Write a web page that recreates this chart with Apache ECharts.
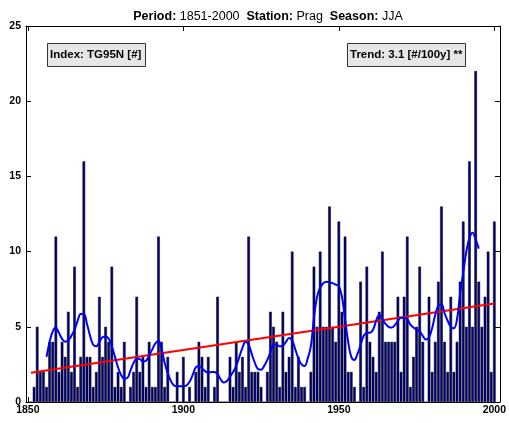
<!DOCTYPE html>
<html><head><meta charset="utf-8">
<script src="https://cdn.jsdelivr.net/npm/echarts@6/dist/echarts.min.js"></script>
<style>html,body{margin:0;padding:0;background:#fff}#c{width:509px;height:423px}</style>
</head><body><div id="c"></div>
<script>
// ---- data ----
const years = [1851,1852,1853,1854,1855,1856,1857,1858,1859,1860,
1861,1862,1863,1864,1865,1866,1867,1868,1869,1870,
1871,1872,1873,1874,1875,1876,1877,1878,1879,1880,
1881,1882,1883,1884,1885,1886,1887,1888,1889,1890,
1891,1892,1893,1894,1895,1896,1897,1898,1899,1900,
1901,1902,1903,1904,1905,1906,1907,1908,1909,1910,
1911,1912,1913,1914,1915,1916,1917,1918,1919,1920,
1921,1922,1923,1924,1925,1926,1927,1928,1929,1930,
1931,1932,1933,1934,1935,1936,1937,1938,1939,1940,
1941,1942,1943,1944,1945,1946,1947,1948,1949,1950,
1951,1952,1953,1954,1955,1956,1957,1958,1959,1960,
1961,1962,1963,1964,1965,1966,1967,1968,1969,1970,
1971,1972,1973,1974,1975,1976,1977,1978,1979,1980,
1981,1982,1983,1984,1985,1986,1987,1988,1989,1990,
1991,1992,1993,1994,1995,1996,1997,1998,1999,2000];
const counts = [0,1,5,2,2,1,4,4,11,2,
4,3,6,2,9,1,3,16,3,3,
1,2,7,3,5,4,9,1,2,1,
4,0,1,2,7,2,3,1,4,1,
1,11,4,1,3,0,0,2,0,3,
0,1,0,2,4,3,1,3,0,1,
7,0,0,0,3,1,4,2,3,1,
11,2,2,2,1,0,2,6,5,4,
1,6,2,3,10,1,3,1,1,0,
2,9,5,10,5,5,13,5,4,12,
6,11,2,2,1,0,8,1,9,4,
3,2,6,10,4,4,4,4,7,2,
7,11,1,3,5,9,4,0,7,2,
4,8,13,4,2,7,2,4,8,12,
5,16,5,22,8,5,7,10,2,12];
const smoothYears = [1856,1857,1858,1859,1860,
1861,1862,1863,1864,1865,1866,1867,1868,1869,1870,
1871,1872,1873,1874,1875,1876,1877,1878,1879,1880,
1881,1882,1883,1884,1885,1886,1887,1888,1889,1890,
1891,1892,1893,1894,1895,1896,1897,1898,1899,1900,
1901,1902,1903,1904,1905,1906,1907,1908,1909,1910,
1911,1912,1913,1914,1915,1916,1917,1918,1919,1920,
1921,1922,1923,1924,1925,1926,1927,1928,1929,1930,
1931,1932,1933,1934,1935,1936,1937,1938,1939,1940,
1941,1942,1943,1944,1945,1946,1947,1948,1949,1950,
1951,1952,1953,1954,1955,1956,1957,1958,1959,1960,
1961,1962,1963,1964,1965,1966,1967,1968,1969,1970,
1971,1972,1973,1974,1975,1976,1977,1978,1979,1980,
1981,1982,1983,1984,1985,1986,1987,1988,1989,1990,
1991,1992,1993,1994,1995];
const smoothValues = [3.0,4.0,4.7,4.95,4.6,
4.2,4.0,4.1,4.4,4.8,5.4,5.85,5.85,5.2,4.4,
3.8,3.7,4.0,4.3,4.35,4.2,3.7,3.0,2.3,1.8,
1.55,1.6,2.1,2.6,2.9,2.85,2.7,2.75,3.1,3.5,
3.9,4.05,3.5,2.6,1.9,1.4,1.1,1.05,1.05,1.05,
1.1,1.35,1.8,2.3,2.4,2.25,2.05,1.95,2.0,2.0,
1.85,1.5,1.3,1.4,1.7,2.0,2.4,3.0,3.6,4.0,
3.8,3.2,2.6,2.2,2.15,2.4,2.8,3.3,3.8,3.8,
3.7,3.75,4.0,4.25,4.1,3.5,2.9,2.5,2.4,2.9,
3.7,5.6,7.0,7.6,7.9,8.0,7.95,7.9,7.8,7.7,
7.0,5.5,4.0,3.0,2.8,3.2,3.8,4.4,4.6,4.6,
4.8,5.4,5.8,5.5,5.2,5.0,4.95,5.1,5.4,5.6,
5.6,5.5,5.15,4.95,4.8,4.7,4.4,4.15,4.3,4.9,
5.8,6.4,6.5,5.9,5.4,5.0,4.9,5.5,7.2,8.6,
10.0,10.9,11.25,10.8,10.2];
const trendYears = [1851, 2000];
const trendValues = [1.95, 6.55];
const xTicks = [1850, 1900, 1950, 2000];
const yTicks = [0, 5, 10, 15, 20, 25];

// ---- chart ----
const FONT = '"Liberation Sans", Arial, Helvetica, sans-serif';
const chart = echarts.init(document.getElementById('c'), null, {renderer: 'canvas'});
const axisLineStyle = {color: '#000', width: 1};
const xBase = {
  type: 'value', min: 1849.4, max: 2001.8,
  splitLine: {show: false},
  axisLine: {show: true, onZero: false, lineStyle: axisLineStyle},
  axisTick: {show: true, inside: true, length: 5, customValues: xTicks, lineStyle: {color: '#000'}}
};
const yBase = {
  type: 'value', min: yTicks[0], max: yTicks[yTicks.length - 1], interval: 5,
  splitLine: {show: false},
  axisLine: {show: true, onZero: false, lineStyle: axisLineStyle},
  axisTick: {show: true, inside: true, length: 5, lineStyle: {color: '#000'}}
};
const boxText = {fontFamily: FONT, fontSize: 11.5, fontWeight: 'bold', color: '#000'};
const option = {
  animation: false,
  backgroundColor: '#fff',
  title: [
    {text: '{b|Period:} 1851-2000  {b|Station:} Prag  {b|Season:} JJA',
     left: 263, top: 5, textAlign: 'center',
     textStyle: {fontFamily: FONT, fontSize: 12.5, fontWeight: 'normal', color: '#000',
       rich: {b: {fontFamily: FONT, fontSize: 12.5, fontWeight: 'bold', color: '#000'}}}},
    {text: 'Index: TG95N [#]', left: 47, top: 43, padding: [6, 4, 6, 3],
     backgroundColor: '#e6e6e6', borderColor: '#333', borderWidth: 1, textStyle: boxText},
    {text: 'Trend: 3.1 [#/100y] **', left: 347, top: 43, padding: [6, 3, 6, 3],
     backgroundColor: '#e6e6e6', borderColor: '#333', borderWidth: 1, textStyle: boxText}
  ],
  grid: {left: 26, right: 8, top: 26, bottom: 21},
  xAxis: [
    Object.assign({}, xBase, {position: 'bottom',
      axisLabel: {customValues: xTicks, formatter: v => String(v), fontFamily: FONT, fontSize: 10.5, fontWeight: 'bold', color: '#000', margin: 3}}),
    Object.assign({}, xBase, {position: 'top', axisLabel: {show: false}})
  ],
  yAxis: [
    Object.assign({}, yBase, {position: 'left',
      axisLabel: {fontFamily: FONT, fontSize: 10.5, fontWeight: 'bold', color: '#000', margin: 5}}),
    Object.assign({}, yBase, {position: 'right', axisLabel: {show: false}})
  ],
  series: [
    {type: 'bar', xAxisIndex: 0, yAxisIndex: 0, barWidth: 2.6,
     data: years.map((y, i) => [y, counts[i]]),
     itemStyle: {color: '#000080', borderColor: '#000', borderWidth: 0.5}},
    {type: 'line', xAxisIndex: 0, yAxisIndex: 0, showSymbol: false,
     data: trendYears.map((y, i) => [y, trendValues[i]]),
     lineStyle: {color: '#ff0000', width: 2}},
    {type: 'line', xAxisIndex: 0, yAxisIndex: 0, showSymbol: false, smooth: 0.4,
     data: smoothYears.map((y, i) => [y, smoothValues[i]]),
     lineStyle: {color: '#0000ff', width: 2}}
  ]
};
chart.setOption(option);
</script>
</body></html>
